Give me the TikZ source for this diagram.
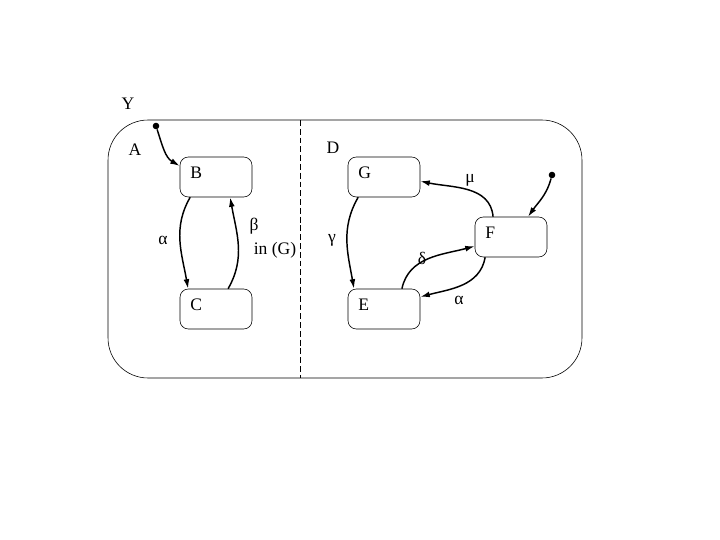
\documentclass[tikz,border=0pt]{standalone}
\usepackage{fontspec}
\setmainfont{Liberation Serif}
\usetikzlibrary{arrows.meta}

\begin{document}
\begin{tikzpicture}[x=0.024cm, y=-0.024cm,
  font=\fontsize{12}{14}\selectfont,
  statebox/.style={draw, rounded corners=0.2cm, minimum width=1.728cm, minimum height=0.96cm, inner sep=0pt},
  boxname/.style={anchor=north west, inner sep=7pt},
  trans/.style={-{Latex[length=6.5pt,width=4pt]}, line width=1pt},
  initdot/.style={circle, fill, inner sep=0pt, minimum size=4.5pt}]
\useasboundingbox (0,0) rectangle (720,540);
% outer state and its two components
\node[draw, rounded corners=0.96cm, minimum width=11.376cm, minimum height=6.192cm, inner sep=0pt] (Y) at (345,249) {};
\node (lblY) at (128,104) {Y};
\node (lblA) at (135,150) {A};
\node (lblD) at (333,148) {D};
\coordinate (dtop) at (300,120);
\coordinate (dbot) at (300,378);
\draw[dash pattern=on 4pt off 2pt] (dtop) -- (dbot);
% states
\node[statebox, label={[boxname]north west:B}] (B) at (216,177) {};
\node[statebox, label={[boxname]north west:C}] (C) at (216,309) {};
\node[statebox, label={[boxname]north west:G}] (G) at (384,177) {};
\node[statebox, label={[boxname]north west:E}] (E) at (384,309) {};
\node[statebox, label={[boxname]north west:F}] (F) at (511,237) {};
\node[initdot] (initA) at (156,126) {};
\node[initdot] (initD) at (552,175) {};
% transitions in A
\draw[trans] (initA) to[out=-72, in=150] (B.163);
\draw[trans] ([xshift=-0.62cm]B.south) to[out=-120, in=100] ([xshift=-0.67cm]C.north);
\draw[trans] ([xshift=0.29cm]C.north) to[out=60, in=-80] ([xshift=0.34cm]B.south);
\node (lblalphaA) at (163,240) {α};
\node (lblbeta) at (254,226) {β};
\node (lblin) at (275,250) {in (G)};
% transitions in D
\draw[trans] (initD) to[out=-105, in=55] ([xshift=0.41cm]F.north);
\draw[trans] ([xshift=-0.62cm]G.south) to[out=-120, in=100] ([xshift=-0.72cm]E.north);
\draw[trans] ([xshift=-0.43cm]F.north) to[out=95, in=-12] ([yshift=-0.1cm]G.east);
\draw[trans] ([xshift=0.43cm]E.north) to[out=78, in=195] ([yshift=-0.22cm]F.west);
\draw[trans] ([xshift=-0.62cm]F.south) to[out=-100, in=15] ([yshift=0.29cm]E.east);
\node (lblgamma) at (332,240) {γ};
\node (lblmu) at (470,180) {μ};
\node (lbldelta) at (422,258) {δ};
\node (lblalphaD) at (459,300) {α};
\end{tikzpicture}
\end{document}
